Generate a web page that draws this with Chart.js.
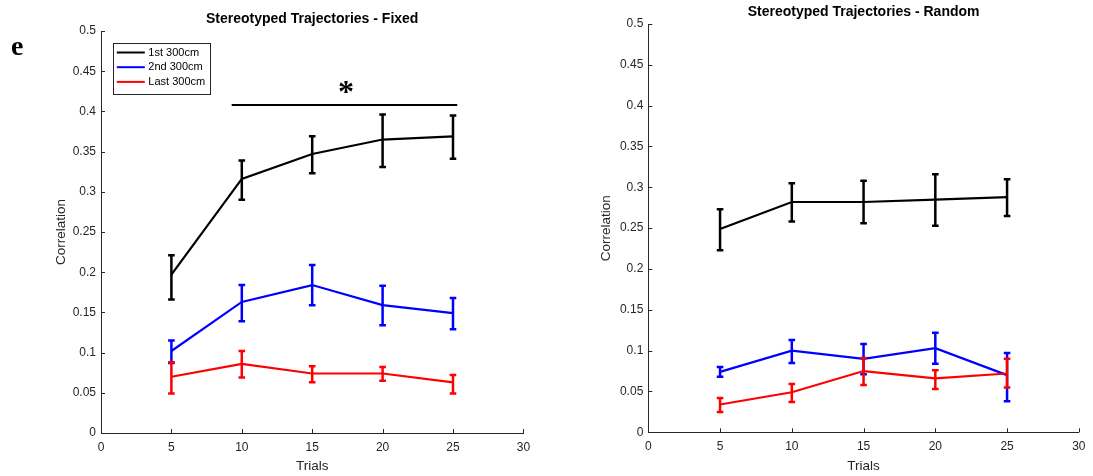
<!DOCTYPE html>
<html><head><meta charset="utf-8">
<script src="https://cdn.jsdelivr.net/npm/chart.js@4"></script>
<style>
html,body{margin:0;padding:0;background:#fff;overflow:hidden}
#wrap{position:relative;width:1093px;height:476px;background:#fff}
canvas{position:absolute;top:0}
#c1{left:0}
#c2{left:546px}
</style></head><body>
<div id="wrap"><canvas id="c1" width="546" height="476"></canvas><canvas id="c2" width="547" height="476"></canvas></div>
<script>
// ---------- data ----------
const trials = [5, 10, 15, 20, 25];
const seriesLabels = ['1st 300cm', '2nd 300cm', 'Last 300cm'];
const seriesColors = ['#000000', '#0000ff', '#ff0000'];
const xTicks = [0, 5, 10, 15, 20, 25, 30];
const yTicks = [0, 0.05, 0.1, 0.15, 0.2, 0.25, 0.3, 0.35, 0.4, 0.45, 0.5];
const chartTitles = ['Stereotyped Trajectories - Fixed', 'Stereotyped Trajectories - Random'];
const xAxisLabel = 'Trials';
const yAxisLabel = 'Correlation';
const panelLetter = 'e';

// Fixed
const fixedFirst    = [0.197, 0.316, 0.347, 0.365, 0.369];
const fixedFirstLo  = [0.166, 0.290, 0.323, 0.331, 0.341];
const fixedFirstHi  = [0.221, 0.339, 0.369, 0.396, 0.395];
const fixedSecond   = [0.102, 0.163, 0.184, 0.159, 0.149];
const fixedSecondLo = [0.087, 0.139, 0.159, 0.134, 0.129];
const fixedSecondHi = [0.115, 0.184, 0.209, 0.183, 0.168];
const fixedLast     = [0.070, 0.086, 0.074, 0.074, 0.063];
const fixedLastLo   = [0.049, 0.069, 0.063, 0.065, 0.049];
const fixedLastHi   = [0.088, 0.102, 0.083, 0.082, 0.072];

// Random
const randomFirst    = [0.249, 0.282, 0.282, 0.285, 0.288];
const randomFirstLo  = [0.223, 0.258, 0.256, 0.253, 0.265];
const randomFirstHi  = [0.273, 0.305, 0.308, 0.316, 0.310];
const randomSecond   = [0.074, 0.100, 0.090, 0.103, 0.070];
const randomSecondLo = [0.068, 0.085, 0.071, 0.084, 0.038];
const randomSecondHi = [0.080, 0.113, 0.108, 0.122, 0.097];
const randomLast     = [0.034, 0.049, 0.075, 0.066, 0.072];
const randomLastLo   = [0.025, 0.037, 0.058, 0.053, 0.055];
const randomLastHi   = [0.042, 0.059, 0.091, 0.076, 0.090];

// significance marker (Fixed panel)
const sigBarStart = 9.28;
const sigBarEnd = 25.3;
const sigBarLevel = 0.408;
const sigStarX = 17.4;
const sigStarY = 0.430;
const sigLabel = '*';

// ---------- helpers ----------
const FONT = '"Liberation Sans", Arial, Helvetica, sans-serif';
const AXIS_COLOR = '#262626';

function pts(vals) { return trials.map((t, i) => ({ x: t, y: vals[i] })); }

function makeDatasets(means, los, his) {
  return means.map((m, k) => ({
    label: seriesLabels[k],
    data: pts(m),
    errLo: los[k],
    errHi: his[k],
    borderColor: seriesColors[k],
    backgroundColor: seriesColors[k],
    borderWidth: 2.2,
    pointRadius: 0,
    tension: 0,
    fill: false,
    order: means.length - 1 - k
  }));
}

const errorBarPlugin = {
  id: 'errorBars',
  afterDatasetDraw(chart, args) {
    const ds = chart.data.datasets[args.index];
    const xs = chart.scales.x, ys = chart.scales.y;
    const ctx = chart.ctx;
    ctx.save();
    ctx.strokeStyle = ds.borderColor;
    ctx.lineWidth = 2.5;
    ctx.lineCap = 'butt';
    ds.data.forEach((p, i) => {
      const px = xs.getPixelForValue(p.x);
      const yl = ys.getPixelForValue(ds.errLo[i]);
      const yh = ys.getPixelForValue(ds.errHi[i]);
      ctx.beginPath();
      ctx.moveTo(px, yl); ctx.lineTo(px, yh);
      ctx.moveTo(px - 3.3, yl); ctx.lineTo(px + 3.3, yl);
      ctx.moveTo(px - 3.3, yh); ctx.lineTo(px + 3.3, yh);
      ctx.stroke();
    });
    ctx.restore();
  }
};

const innerTicksPlugin = {
  id: 'innerTicks',
  afterDraw(chart) {
    const ctx = chart.ctx, a = chart.chartArea;
    const xs = chart.scales.x, ys = chart.scales.y;
    const len = 4;
    ctx.save();
    ctx.strokeStyle = AXIS_COLOR;
    ctx.lineWidth = 1;
    ctx.beginPath();
    yTicks.forEach(v => {
      const py = Math.round(ys.getPixelForValue(v)) + 0.5;
      ctx.moveTo(a.left, py); ctx.lineTo(a.left + len, py);
    });
    xTicks.forEach(v => {
      const px = Math.round(xs.getPixelForValue(v)) + 0.5;
      ctx.moveTo(px, a.bottom); ctx.lineTo(px, a.bottom - len);
    });
    ctx.stroke();
    ctx.restore();
  }
};

function baseOptions(g, title) {
  return {
    responsive: false,
    devicePixelRatio: 1,
    animation: false,
    events: [],
    layout: { padding: { left: 0, top: 0, right: g.padRight, bottom: 0 } },
    plugins: {
      legend: { display: false },
      tooltip: { enabled: false },
      title: {
        display: true, text: title, fullSize: false, color: '#000',
        font: { family: FONT, size: 14, weight: 'bold', lineHeight: 1.2 },
        padding: { top: g.titleTop, bottom: g.titleBottom }
      }
    },
    scales: {
      x: {
        type: 'linear', min: 0, max: 30,
        afterBuildTicks: s => { s.ticks = xTicks.map(v => ({ value: v })); },
        afterFit: s => { s.height = g.xHeight; },
        grid: { display: false, drawTicks: false },
        border: { display: true, color: AXIS_COLOR, width: 1 },
        ticks: { color: AXIS_COLOR, font: { family: FONT, size: 12 }, padding: 7.5, maxRotation: 0, autoSkip: false },
        title: { display: true, text: xAxisLabel, color: AXIS_COLOR, font: { family: FONT, size: 13.5, lineHeight: 1.2 }, padding: { top: 0, bottom: 1.2 } }
      },
      y: {
        type: 'linear', min: 0, max: 0.5,
        afterBuildTicks: s => { s.ticks = yTicks.map(v => ({ value: v })); },
        afterFit: s => { s.width = g.yWidth; },
        grid: { display: false, drawTicks: false },
        border: { display: true, color: AXIS_COLOR, width: 1 },
        ticks: { color: AXIS_COLOR, font: { family: FONT, size: 12 }, padding: 5, autoSkip: false,
                 callback: v => String(+(+v).toFixed(2)) },
        title: { display: true, text: yAxisLabel, color: AXIS_COLOR, font: { family: FONT, size: 13.5, lineHeight: 1.2 }, padding: { top: g.yTitleTop, bottom: 0 } }
      }
    }
  };
}

const fixedExtras = {
  id: 'fixedExtras',
  afterDraw(chart) {
    const ctx = chart.ctx, a = chart.chartArea;
    const xs = chart.scales.x, ys = chart.scales.y;
    ctx.save();
    // significance bar
    ctx.strokeStyle = '#000'; ctx.lineWidth = 2;
    const yb = ys.getPixelForValue(sigBarLevel);
    ctx.beginPath();
    ctx.moveTo(xs.getPixelForValue(sigBarStart), yb);
    ctx.lineTo(xs.getPixelForValue(sigBarEnd), yb);
    ctx.stroke();
    // asterisk
    ctx.fillStyle = '#000';
    ctx.font = 'bold 32px "Liberation Serif", "Times New Roman", serif';
    ctx.textAlign = 'left'; ctx.textBaseline = 'alphabetic';
    let m = ctx.measureText(sigLabel);
    const sx = xs.getPixelForValue(sigStarX), sy = ys.getPixelForValue(sigStarY);
    ctx.fillText(sigLabel, sx - (m.actualBoundingBoxRight - m.actualBoundingBoxLeft) / 2,
                 sy + (m.actualBoundingBoxAscent - m.actualBoundingBoxDescent) / 2);
    // panel letter
    ctx.font = 'bold 28px "Liberation Serif", "Times New Roman", serif';
    ctx.fillText(panelLetter, 11, 55);
    // legend
    const bx = a.left + 12.3, by = a.top + 11.5, bw = 97, bh = 51;
    ctx.fillStyle = '#fff';
    ctx.fillRect(bx, by, bw, bh);
    ctx.strokeStyle = AXIS_COLOR; ctx.lineWidth = 1;
    ctx.strokeRect(Math.round(bx) + 0.5, Math.round(by) + 0.5, bw, bh);
    ctx.font = '11px ' + FONT;
    ctx.textBaseline = 'middle';
    seriesLabels.forEach((lab, k) => {
      const ry = by + 10 + k * 14.7;
      ctx.strokeStyle = seriesColors[k]; ctx.lineWidth = 2;
      ctx.beginPath(); ctx.moveTo(bx + 3.5, ry); ctx.lineTo(bx + 31.5, ry); ctx.stroke();
      ctx.fillStyle = '#000';
      ctx.fillText(lab, bx + 35, ry);
    });
    ctx.restore();
  }
};

new Chart(document.getElementById('c1'), {
  type: 'line',
  data: { datasets: makeDatasets([fixedFirst, fixedSecond, fixedLast],
                                 [fixedFirstLo, fixedSecondLo, fixedLastLo],
                                 [fixedFirstHi, fixedSecondHi, fixedLastHi]) },
  options: baseOptions({ padRight: 22.6, titleTop: 10.6, titleBottom: 3.6, xHeight: 43, yWidth: 101, yTitleTop: 52.9 }, chartTitles[0]),
  plugins: [errorBarPlugin, innerTicksPlugin, fixedExtras]
});

new Chart(document.getElementById('c2'), {
  type: 'line',
  data: { datasets: makeDatasets([randomFirst, randomSecond, randomLast],
                                 [randomFirstLo, randomSecondLo, randomLastLo],
                                 [randomFirstHi, randomSecondHi, randomLastHi]) },
  options: baseOptions({ padRight: 10.7, titleTop: 3.3, titleBottom: 3.9, xHeight: 43.7, yWidth: 102.3, yTitleTop: 52.1 }, chartTitles[1]),
  plugins: [errorBarPlugin, innerTicksPlugin]
});
</script>
</body></html>
